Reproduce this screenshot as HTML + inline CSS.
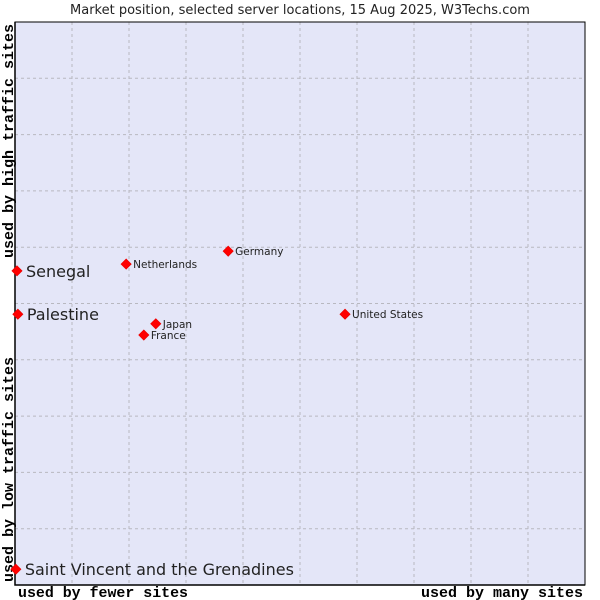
<!DOCTYPE html>
<html><head><meta charset="utf-8"><style>
body{margin:0;background:#fff;}
svg{display:block;}
</style></head><body>
<svg width="600" height="600" xmlns="http://www.w3.org/2000/svg">
<text x="300" y="14" text-anchor="middle" font-family="DejaVu Sans, sans-serif" font-size="13" fill="#222">Market position, selected server locations, 15 Aug 2025, W3Techs.com</text>
<rect x="15" y="22" width="570" height="563" fill="#e4e6f8" stroke="none"/>
<g id="grid"></g>
<path d="M15 22 V585 H585" fill="none" stroke="#000" stroke-width="1.5"/>
<rect x="15" y="22" width="570" height="563" fill="none" stroke="#000" stroke-width="1"/>
<text x="18" y="597" font-family="Liberation Mono, DejaVu Sans Mono, monospace" font-size="15" font-weight="bold" fill="#000" textLength="170" lengthAdjust="spacingAndGlyphs">used by fewer sites</text>
<text x="583" y="597" text-anchor="end" font-family="Liberation Mono, DejaVu Sans Mono, monospace" font-size="15" font-weight="bold" fill="#000">used by many sites</text>
<text transform="translate(13,582) rotate(-90)" font-family="Liberation Mono, DejaVu Sans Mono, monospace" font-size="15" font-weight="bold" fill="#000">used by low traffic sites</text>
<text transform="translate(13,258) rotate(-90)" font-family="Liberation Mono, DejaVu Sans Mono, monospace" font-size="15" font-weight="bold" fill="#000">used by high traffic sites</text>
<g id="points"></g>
</svg>
<script>
const names=["Senegal","Palestine","Saint Vincent and the Grenadines","Netherlands","Germany","Japan","France","United States"];
const xVals=[0.35,0.5,0.15,19.5,37.4,24.7,22.6,57.9];
const yVals=[55.8,48.1,2.8,57.0,59.3,46.4,44.4,48.1];
const big=[true,true,true,false,false,false,false,false];
const X0=15,X1=585,Y0=585,Y1=22;
const xs=v=>X0+v/100*(X1-X0);
const ys=v=>Y0-v/100*(Y0-Y1);
const NS="http://www.w3.org/2000/svg";
const grid=document.getElementById('grid');
for(let i=1;i<10;i++){
  let l=document.createElementNS(NS,'line');
  
  
  l.setAttribute('x1',xs(i*10));l.setAttribute('x2',xs(i*10));l.setAttribute('y1',Y1);l.setAttribute('y2',Y0);
  l.setAttribute('stroke','#b8b8c0');l.setAttribute('stroke-dasharray','3,3');grid.appendChild(l);
  let h=document.createElementNS(NS,'line');
  
  
  h.setAttribute('y1',ys(i*10));h.setAttribute('y2',ys(i*10));h.setAttribute('x1',X0);h.setAttribute('x2',X1);
  h.setAttribute('stroke','#b8b8c0');h.setAttribute('stroke-dasharray','3,3');grid.appendChild(h);
}
const pts=document.getElementById('points');
names.forEach((n,i)=>{
  const cx=xs(xVals[i]),cy=ys(yVals[i]);
  let p=document.createElementNS(NS,'path');
  
  
  p.setAttribute('d',`M${cx} ${cy-5}L${cx+5} ${cy}L${cx} ${cy+5}L${cx-5} ${cy}Z`);
  p.setAttribute('fill','#ff0000');p.setAttribute('stroke','#ee0000');p.setAttribute('stroke-width','0.8');pts.appendChild(p);
  let t=document.createElementNS(NS,'text');
  
  
  t.setAttribute('x',cx+(big[i]?9:7));t.setAttribute('y',cy+(big[i]?6:4));
  t.setAttribute('font-family','DejaVu Sans, sans-serif');
  t.setAttribute('font-size',big[i]?'16':'10.5');
  t.setAttribute('fill','#222');t.textContent=n;pts.appendChild(t);
});
</script>
</body></html>
